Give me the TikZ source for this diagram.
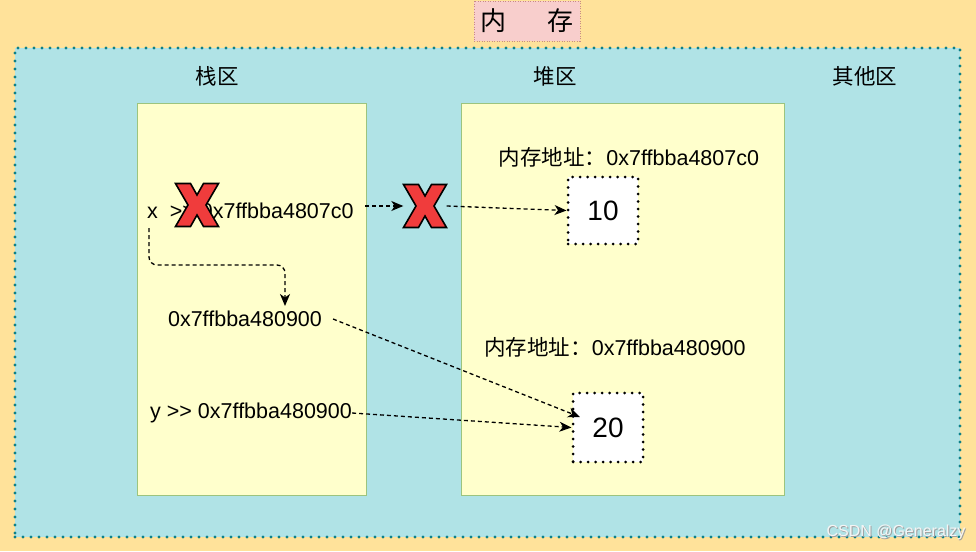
\documentclass[tikz,border=0pt]{standalone}
\usepackage{fontspec}
\setmainfont{Liberation Sans}
\newfontfamily\cjk{Noto Sans CJK SC}
\usetikzlibrary{arrows.meta}
\definecolor{bgorange}{HTML}{FFE29A}
\definecolor{pinkfill}{HTML}{F8CECC}
\definecolor{pinkline}{HTML}{C98A86}
\definecolor{tealfill}{HTML}{B0E3E6}
\definecolor{tealline}{HTML}{0E8088}
\definecolor{yelfill}{HTML}{FFFFCC}
\definecolor{greenline}{HTML}{9CC47E}
\definecolor{xred}{HTML}{F03C3C}
\tikzset{
  titlebox/.style={draw=pinkline, fill=pinkfill, line width=0.8pt, dash pattern=on 1pt off 1.5pt, minimum width=106pt, minimum height=40pt, inner sep=0pt, font=\fontsize{26}{28}\selectfont\cjk},
  memarea/.style={draw=tealline, fill=tealfill, line width=3.2pt, dash pattern=on 0pt off 8pt, line cap=round, inner sep=0pt},
  area/.style={draw=greenline, fill=yelfill, line width=1pt, inner sep=0pt},
  lbl/.style={inner sep=0pt, font=\fontsize{21.5}{24}\selectfont\cjk},
  txt/.style={inner sep=0pt, font=\fontsize{21.5}{24}\selectfont},
  valbox/.style={draw=black, fill=white, line width=3pt, dash pattern=on 0pt off 7.5pt, line cap=round, inner sep=0pt, font=\fontsize{28}{30}\selectfont},
  conn/.style={draw=black, line width=1.3pt, dash pattern=on 4pt off 3pt, -{Stealth[length=12pt,width=10pt,inset=3.5pt]}},
  xmark/.style={inner sep=0pt, minimum size=43pt},
  xshape/.style={fill=xred, draw=black, line width=1.6pt, line join=miter}
}
\newcommand{\crossmark}[1]{%
  \filldraw[xshape, shift={(#1.center)}] (-21.5,-21.5) -- (-6.5,-21.5) -- (0,-10) -- (6.5,-21.5) -- (21.5,-21.5) -- (9,0) -- (21.5,21.5) -- (6.5,21.5) -- (0,10) -- (-6.5,21.5) -- (-21.5,21.5) -- (-9,0) -- cycle;}
\begin{document}
\begin{tikzpicture}[x=1pt,y=-1pt]
\fill[bgorange] (0,0) rectangle (976,551);
\useasboundingbox (0,0) rectangle (976,551);
% title
\node[titlebox] (title) at (527,21) {内\hspace{42pt}存};
% memory area
\node[memarea, minimum width=945pt, minimum height=489pt] (mem) at (487.5,292.5) {};
\node[lbl] (stacklbl) at (217,76) {栈区};
\node[lbl] (heaplbl) at (555,76) {堆区};
\node[lbl] (otherlbl) at (865,76) {其他区};
% stack and heap
\node[area, minimum width=229pt, minimum height=392pt] (stack) at (251.5,299) {};
\node[area, minimum width=323pt, minimum height=392pt] (heap) at (622.5,299) {};
% stack texts
\node[txt, anchor=west] (xtxt) at (147,211) {x\ \ {>}{>} 0x7ffbba4807c0};
\node[txt] (addr1) at (245,319) {0x7ffbba480900};
\node[txt, anchor=west] (ytxt) at (150,413) {y {>}{>} 0x7ffbba480900};
% heap texts
\node[txt] (h1lbl) at (629,157) {{\cjk 内存地址：}0x7ffbba4807c0};
\node[txt] (h2lbl) at (615,347) {{\cjk 内存地址：}0x7ffbba480900};
\node[valbox, minimum width=70pt, minimum height=67pt] (box10) at (603,210.5) {10};
\node[valbox, minimum width=70pt, minimum height=69pt] (box20) at (608,427.5) {20};
% crosses
\node[xmark] (X1) at (197,205) {};
\node[xmark] (X2) at (425,206) {};
\crossmark{X1}
\crossmark{X2}
% connectors
\coordinate (a1s) at (365,206);
\draw[conn] (a1s) -- (X2.west);
\draw[conn] (X2.east) -- (box10.west);
\coordinate (p1) at (149,228);
\coordinate (p2) at (285,306);
\draw[conn, rounded corners=8pt] (p1) |- (285,265) -- (p2);
\coordinate (d1) at (333,319);
\coordinate (d2) at (580,417);
\draw[conn] (d1) -- (d2);
\draw[conn] (ytxt.east) -- (box20.west);
% watermark
\node[inner sep=0pt, text=gray!75, font=\fontsize{16}{18}\selectfont] at (897,533) {CSDN @Generalzy};
\node[inner sep=0pt, text=white!92!gray, font=\fontsize{16}{18}\selectfont] (wm) at (896,532) {CSDN @Generalzy};
\end{tikzpicture}
\end{document}
